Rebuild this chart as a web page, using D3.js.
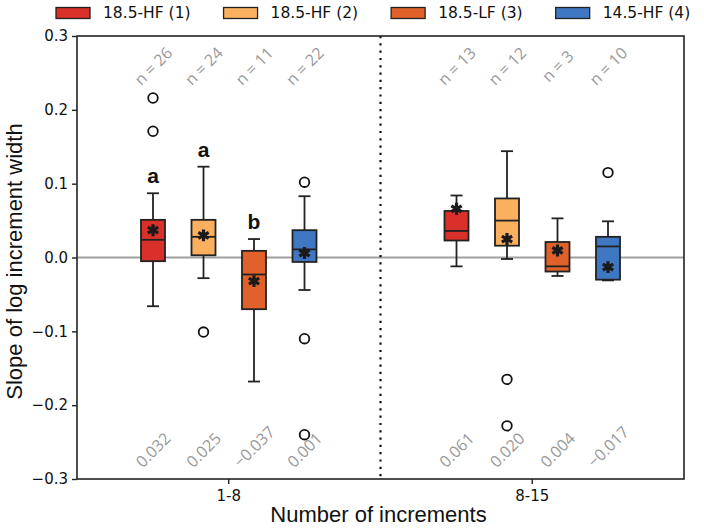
<!DOCTYPE html>
<html>
<head>
<meta charset="utf-8">
<script src="https://cdn.jsdelivr.net/npm/d3@7"></script>
<style>
  html, body { margin: 0; padding: 0; background: #fff; }
  svg { display: block; }
</style>
</head>
<body>
<svg id="chart" width="704" height="528"></svg>
<script>
// ---------------- DATA ----------------
const groups = ["1-8", "8-15"];
const seriesNames = ["18.5-HF (1)", "18.5-HF (2)", "18.5-LF (3)", "14.5-HF (4)"];
const seriesColors = ["#d9302a", "#fbb060", "#e0622a", "#4077c2"];
const yTicks = [-0.3, -0.2, -0.1, 0.0, 0.1, 0.2, 0.3];

// indexed [group][series]
const whiskerLow  = [[-0.066, -0.028, -0.168, -0.044], [-0.012, -0.002, -0.025, -0.031]];
const q1          = [[-0.005,  0.003, -0.070, -0.006], [ 0.023,  0.016, -0.019, -0.030]];
const median      = [[ 0.024,  0.028, -0.023,  0.011], [ 0.036,  0.050, -0.012,  0.015]];
const q3          = [[ 0.051,  0.051,  0.009,  0.037], [ 0.063,  0.080,  0.021,  0.028]];
const whiskerHigh = [[ 0.087,  0.123,  0.025,  0.083], [ 0.084,  0.144,  0.053,  0.049]];
const means       = [[ 0.037,  0.030, -0.032,  0.006], [ 0.066,  0.025,  0.0095, -0.013]];
const outliers    = [[[0.171, 0.216], [-0.101], [], [0.102, -0.110, -0.240]],
                     [[], [-0.165, -0.228], [], [0.115]]];
const nCounts     = [[26, 24, 11, 22], [13, 12, 3, 10]];
const meanLabels  = [["0.032", "0.025", "\u22120.037", "0.001"], ["0.061", "0.020", "0.004", "\u22120.017"]];
const letters     = [["a", "a", "b", ""], ["", "", "", ""]];

// ---------------- LAYOUT ----------------
const svg = d3.select("#chart");
const mLeft = 77, mRight = 684, mTop = 36, mBottom = 479;

const x = d3.scaleBand().domain(groups).range([mLeft, mRight]).padding(0);
const xi = d3.scaleBand().domain(d3.range(seriesNames.length)).range([-101, 101]).padding(0);
const y = d3.scaleLinear().domain([-0.3, 0.3]).range([mBottom, mTop]);

const boxW = 24, capW = 12;
const cx = (g, s) => x(groups[g]) + x.bandwidth() / 2 + xi(s) + xi.bandwidth() / 2;

// zero line
svg.append("line")
  .attr("x1", mLeft).attr("x2", mRight)
  .attr("y1", y(0)).attr("y2", y(0))
  .attr("stroke", "#a0a0a0").attr("stroke-width", 2.2);

// dotted separator
const sepX = x(groups[1]);
svg.append("line")
  .attr("x1", sepX).attr("x2", sepX)
  .attr("y1", mTop).attr("y2", mBottom)
  .attr("stroke", "#111").attr("stroke-width", 2.2)
  .attr("stroke-dasharray", "2.2,5.1");

const dark = "#222";
const items = [];
groups.forEach((gName, g) => seriesNames.forEach((sName, s) => items.push({ g, s })));

const boxG = svg.append("g");
items.forEach(({ g, s }) => {
  const c = cx(g, s);
  const gg = boxG.append("g");
  gg.append("line").attr("x1", c).attr("x2", c)
    .attr("y1", y(whiskerHigh[g][s])).attr("y2", y(q3[g][s]))
    .attr("stroke", dark).attr("stroke-width", 1.8);
  gg.append("line").attr("x1", c).attr("x2", c)
    .attr("y1", y(q1[g][s])).attr("y2", y(whiskerLow[g][s]))
    .attr("stroke", dark).attr("stroke-width", 1.8);
  [whiskerHigh[g][s], whiskerLow[g][s]].forEach(v => {
    gg.append("line").attr("x1", c - capW / 2).attr("x2", c + capW / 2)
      .attr("y1", y(v)).attr("y2", y(v))
      .attr("stroke", dark).attr("stroke-width", 1.8);
  });
  gg.append("rect")
    .attr("x", c - boxW / 2).attr("width", boxW)
    .attr("y", y(q3[g][s])).attr("height", y(q1[g][s]) - y(q3[g][s]))
    .attr("fill", seriesColors[s]).attr("stroke", dark).attr("stroke-width", 1.8);
  gg.append("line").attr("x1", c - boxW / 2).attr("x2", c + boxW / 2)
    .attr("y1", y(median[g][s])).attr("y2", y(median[g][s]))
    .attr("stroke", dark).attr("stroke-width", 1.8);
  gg.append("path")
    .attr("d", d3.symbol(d3.symbolAsterisk, 100)())
    .attr("transform", `translate(${c},${y(means[g][s])})`)
    .attr("fill", "none").attr("stroke", "#1a1a1a").attr("stroke-width", 3.2);
  outliers[g][s].forEach(v => {
    gg.append("circle").attr("cx", c).attr("cy", y(v)).attr("r", 4.8)
      .attr("fill", "none").attr("stroke", "#111").attr("stroke-width", 1.8);
  });
  if (letters[g][s]) {
    gg.append("text").attr("x", c).attr("y", y(whiskerHigh[g][s]) - 10)
      .attr("text-anchor", "middle")
      .attr("font-family", "Liberation Sans, Arial, sans-serif")
      .attr("font-weight", "bold").attr("font-size", 21)
      .attr("fill", "#111").text(letters[g][s]);
  }
});

// rotated annotations
const annFont = "Open Sans, sans-serif";
function rotatedLabel(c, yPos, txt, mode) {
  const t = svg.append("text")
    .attr("text-anchor", "middle").attr("dominant-baseline", "central")
    .attr("font-family", annFont).attr("font-size", 16)
    .attr("fill", "#999").text(txt);
  const bb = t.node().getBBox();
  const half = (bb.width + bb.height * 0.75) / (2 * Math.SQRT2);
  const cy = mode === "bottom" ? yPos - half : yPos;
  t.attr("transform", `translate(${c},${cy}) rotate(-45)`);
}
items.forEach(({ g, s }) => {
  const c = cx(g, s);
  rotatedLabel(c, 66, "n = " + nCounts[g][s], "center");
  rotatedLabel(c, 470, meanLabels[g][s], "bottom");
});

// axes
const yAxis = d3.axisLeft(y).tickValues(yTicks).tickFormat(d3.format(".1f")).tickSize(5).tickPadding(4);
const yG = svg.append("g").attr("transform", `translate(${mLeft},0)`).call(yAxis);
const xAxis = d3.axisBottom(x).tickSize(5).tickPadding(6);
const xG = svg.append("g").attr("transform", `translate(0,${mBottom})`).call(xAxis);
[yG, xG].forEach(a => {
  a.select(".domain").remove();
  a.selectAll(".tick line").attr("stroke", dark).attr("stroke-width", 1.4);
  a.selectAll(".tick text").attr("font-family", "DejaVu Sans, sans-serif")
    .attr("font-size", 15).attr("fill", "#111");
});

// frame
svg.append("rect").attr("x", mLeft).attr("y", mTop)
  .attr("width", mRight - mLeft).attr("height", mBottom - mTop)
  .attr("fill", "none").attr("stroke", dark).attr("stroke-width", 1.6);

// axis titles
svg.append("text")
  .attr("transform", `translate(22,${(mTop + mBottom) / 2 + 4}) rotate(-90)`)
  .attr("text-anchor", "middle")
  .attr("font-family", "Liberation Sans, Arial, sans-serif").attr("font-size", 22)
  .attr("fill", "#111").text("Slope of log increment width");
svg.append("text")
  .attr("x", (mLeft + mRight) / 2 - 2).attr("y", 522)
  .attr("text-anchor", "middle")
  .attr("font-family", "Liberation Sans, Arial, sans-serif").attr("font-size", 22)
  .attr("fill", "#111").text("Number of increments");

// legend
const leg = svg.append("g");
let lx = 56;
seriesNames.forEach((name, s) => {
  leg.append("rect").attr("x", lx).attr("y", 7.5).attr("width", 34).attr("height", 11)
    .attr("fill", seriesColors[s]).attr("stroke", dark).attr("stroke-width", 1.3);
  const t = leg.append("text").attr("x", lx + 47).attr("y", 18)
    .attr("font-family", "DejaVu Sans, sans-serif").attr("font-size", 15.5)
    .attr("fill", "#111").text(name);
  lx += 47 + t.node().getComputedTextLength() + 33;
});
</script>
</body>
</html>
